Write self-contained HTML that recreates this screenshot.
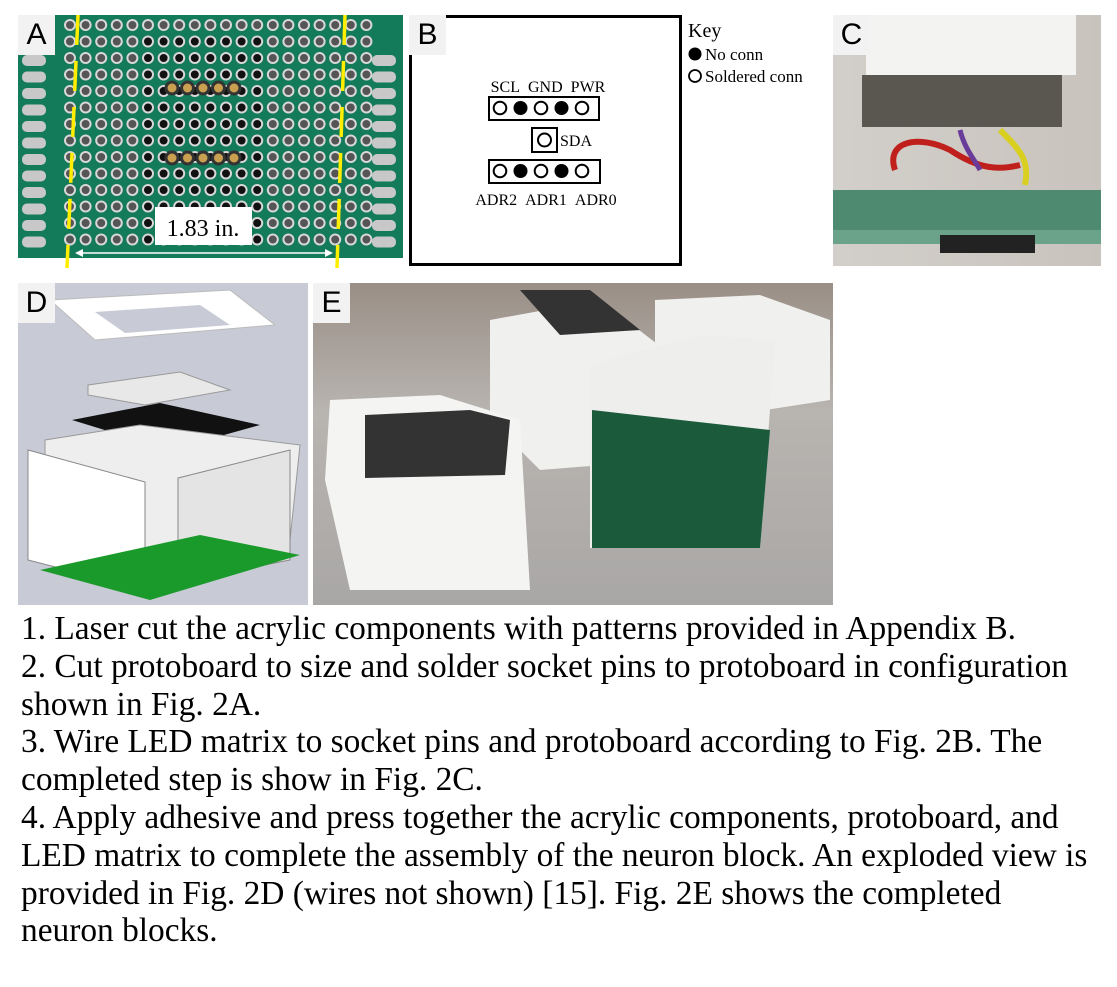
<!DOCTYPE html>
<html><head><meta charset="utf-8"><style>
body{margin:0;background:#fff;width:1117px;height:987px;overflow:hidden;position:relative;font-family:"Liberation Serif",serif}
.lbl{position:absolute;background:#f2f2f2;font-family:"Liberation Sans",sans-serif;font-size:30px;width:37px;height:40px;line-height:40px;text-align:center;color:#000}
#txt{position:absolute;left:21px;top:610px;font-size:33.4px;line-height:37.8px;color:#000;white-space:nowrap}
</style></head><body>
<svg width="1117" height="987" style="position:absolute;left:0;top:0">
<g>
<rect x="18" y="15" width="385" height="245" fill="#137a5a"/>
<rect x="18" y="258" width="385" height="10" fill="#fff"/>
<g id="holes"></g>
<g id="pads"></g>
<line x1="78" y1="15" x2="67" y2="268" stroke="#ffee00" stroke-width="3.5" stroke-dasharray="30,16"/>
<line x1="345" y1="15" x2="337" y2="268" stroke="#ffee00" stroke-width="3.5" stroke-dasharray="30,16"/>
<rect x="155" y="207" width="97" height="38" fill="#fff"/>
<text x="203" y="236" font-size="24" text-anchor="middle" font-family="Liberation Serif">1.83 in.</text>
<line x1="78" y1="253" x2="330" y2="253" stroke="#fff" stroke-width="1.5"/>
<polygon points="75,253 83,249 83,257" fill="#fff"/><polygon points="333,253 325,249 325,257" fill="#fff"/>
</g>
<g font-family="Liberation Serif">
<rect x="410.5" y="16.5" width="270" height="248" fill="#fff" stroke="#000" stroke-width="3"/>
<text x="548" y="92" font-size="16" text-anchor="middle">SCL&#160;&#160;GND&#160;&#160;PWR</text>
<rect x="489" y="97" width="110" height="23" fill="none" stroke="#000" stroke-width="2"/>
<rect x="532" y="128" width="25" height="24" fill="none" stroke="#000" stroke-width="2"/>
<circle cx="544.5" cy="140" r="6.5" fill="none" stroke="#000" stroke-width="2"/>
<text x="560" y="146" font-size="16">SDA</text>
<rect x="489" y="160" width="111" height="23" fill="none" stroke="#000" stroke-width="2"/>
<g id="pins"></g>
<text x="546" y="205" font-size="16" text-anchor="middle">ADR2&#160;&#160;ADR1&#160;&#160;ADR0</text>
<text x="688" y="37" font-size="20">Key</text>
<circle cx="695" cy="54" r="6.5" fill="#000"/>
<text x="705" y="60" font-size="17">No conn</text>
<circle cx="695" cy="76" r="6" fill="none" stroke="#000" stroke-width="1.8"/>
<text x="705" y="82" font-size="17">Soldered conn</text>
</g>
<g>
<defs>
<linearGradient id="gc" x1="0" y1="0" x2="1" y2="0"><stop offset="0" stop-color="#d2cfca"/><stop offset="1" stop-color="#c9c3bd"/></linearGradient>
<linearGradient id="ge" x1="0" y1="0" x2="0" y2="1"><stop offset="0" stop-color="#9a8f86"/><stop offset="0.4" stop-color="#b8b4b0"/><stop offset="1" stop-color="#a9a7a6"/></linearGradient>
</defs>
<rect x="833" y="15" width="268" height="251" fill="url(#gc)"/>
<rect x="866" y="15" width="210" height="60" fill="#f3f3f1"/>
<rect x="862" y="75" width="200" height="52" fill="#5a5650"/>
<path d="M895 170 C885 140 920 135 950 150 C980 170 1000 170 1020 165" stroke="#c0201c" stroke-width="6" fill="none"/>
<path d="M1000 130 C1020 150 1030 160 1025 185" stroke="#d8cf20" stroke-width="6" fill="none"/>
<path d="M960 130 C965 150 975 160 980 170" stroke="#6a3c9a" stroke-width="5" fill="none"/>
<rect x="833" y="190" width="268" height="40" fill="#4e8a70"/>
<rect x="833" y="230" width="268" height="14" fill="#6aa38a"/>
<rect x="940" y="235" width="95" height="18" fill="#222"/>
</g>
<g>
<rect x="18" y="283" width="290" height="322" fill="#c8cad6"/>
<polygon points="50,300 230,290 275,325 95,340" fill="#fff" stroke="#bbb"/>
<polygon points="95,312 200,305 230,325 125,333" fill="#c8cad6"/>
<polygon points="88,385 180,372 230,390 145,405 88,395" fill="#e8e8e8" stroke="#999"/>
<polygon points="72,420 160,403 260,425 170,450" fill="#111"/>
<polygon points="45,440 140,425 300,445 290,540 210,560 45,540" fill="#eeeeee" stroke="#999"/>
<polygon points="28,450 145,482 145,590 28,560" fill="#fff" stroke="#888"/>
<polygon points="178,478 290,450 290,560 178,582" fill="#e4e4e4" stroke="#888"/>
<polygon points="40,570 150,600 300,555 200,535" fill="#1a9a2a"/>
</g>
<g>
<rect x="313" y="283" width="520" height="322" fill="url(#ge)"/>
<polygon points="490,320 600,300 665,350 665,460 540,470 490,420" fill="#f0f0ee"/>
<polygon points="655,300 760,295 830,320 830,400 700,420 655,380" fill="#f0f0ee"/>
<polygon points="330,400 440,395 520,420 530,590 350,590 325,480" fill="#f4f4f2"/>
<polygon points="365,415 470,410 510,420 505,475 365,478" fill="#333"/>
<polygon points="590,365 700,335 775,340 760,548 590,548" fill="#eeeeec"/>
<polygon points="592,410 770,430 760,548 592,548" fill="#1b5b3c"/>
<polygon points="520,290 590,290 640,330 560,335" fill="#333"/>
</g>
</svg>
<div class="lbl" style="left:18px;top:15px">A</div>
<div class="lbl" style="left:409px;top:15px">B</div>
<div class="lbl" style="left:833px;top:15px">C</div>
<div class="lbl" style="left:18px;top:283px">D</div>
<div class="lbl" style="left:313px;top:283px">E</div>
<div id="txt">1. Laser cut the acrylic components with patterns provided in Appendix B.<br>2. Cut protoboard to size and solder socket pins to protoboard in configuration<br>shown in Fig. 2A.<br>3. Wire LED matrix to socket pins and protoboard according to Fig. 2B. The<br>completed step is show in Fig. 2C.<br>4. Apply adhesive and press together the acrylic components, protoboard, and<br>LED matrix to complete the assembly of the neuron block. An exploded view is<br>provided in Fig. 2D (wires not shown) [15]. Fig. 2E shows the completed<br>neuron blocks.</div>
<script>
const NS='http://www.w3.org/2000/svg';
const pinStates=[0,1,0,1,0];
const pinXs=[0,1,2,3,4];
const holes=document.getElementById('holes');
for(let r=0;r<14;r++)for(let c=0;c<20;c++){
  const e=document.createElementNS(NS,'circle');
  
  
  e.setAttribute('cx',70+c*15.6);e.setAttribute('cy',25+r*16.5);e.setAttribute('r',5);
  e.setAttribute('fill',(c>=5&&c<=12&&r>=1)?'#111':'#555');
  e.setAttribute('stroke','#d8d8d8');e.setAttribute('stroke-width',2);
  holes.appendChild(e);
}
const pads=document.getElementById('pads');
for(let r=0;r<12;r++){for(const x of [22,372]){
  const e=document.createElementNS(NS,'rect');
  
  
  e.setAttribute('x',x);e.setAttribute('y',55+r*16.5);e.setAttribute('width',24);e.setAttribute('height',11);e.setAttribute('rx',5);
  e.setAttribute('fill','#c8c8c8');pads.appendChild(e);
}}
for(const [row,y0] of [[0,88],[1,158]]){for(let i=0;i<5;i++){
  const e=document.createElementNS(NS,'circle');
  
  
  e.setAttribute('cx',172+i*15.5);e.setAttribute('cy',y0);e.setAttribute('r',6);
  e.setAttribute('fill','#c9a050');e.setAttribute('stroke','#333');e.setAttribute('stroke-width',3);
  pads.appendChild(e);
}}
const pins=document.getElementById('pins');
for(const cy of [108,171])pinXs.forEach((p,i)=>{
  const e=document.createElementNS(NS,'circle');
  
  
  e.setAttribute('cx',500+p*20.5);e.setAttribute('cy',cy);e.setAttribute('r',pinStates[i]?7:6.3);
  e.setAttribute('fill',pinStates[i]?'#000':'none');e.setAttribute('stroke','#000');e.setAttribute('stroke-width',pinStates[i]?0:2);
  pins.appendChild(e);
});
</script>
</body></html>
